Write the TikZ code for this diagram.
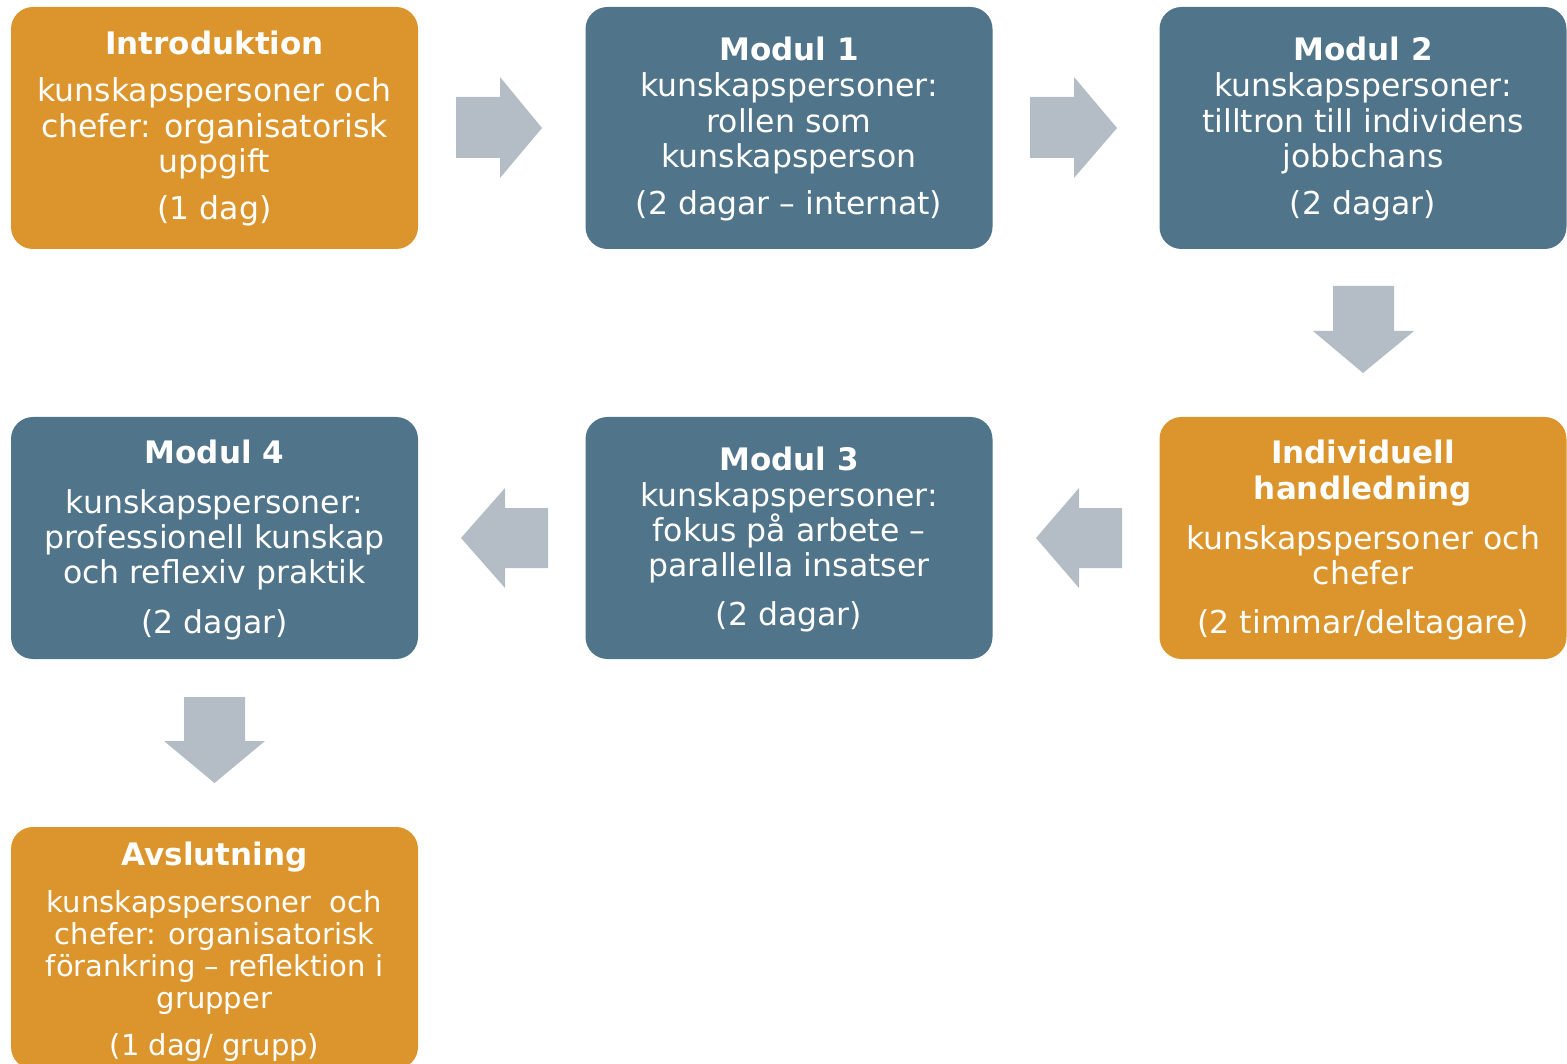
\documentclass[tikz,border=0pt]{standalone}
\usepackage{fontspec}
\setmainfont{DejaVu Sans}
\definecolor{orng}{HTML}{DB952C}
\definecolor{slate}{HTML}{507489}
\definecolor{arrowgray}{HTML}{B4BCC5}
\begin{document}
\begin{tikzpicture}[x=1pt,y=-1pt,
  box/.style={draw=none,rounded corners=22pt,inner sep=0pt,minimum width=407pt,minimum height=242pt},
  obox/.style={box,fill=orng},
  bbox/.style={box,fill=slate},
  ttl/.style={text=white,anchor=base,font=\bfseries\fontsize{31}{36}\selectfont,inner sep=0pt},
  bdy/.style={text=white,anchor=base,align=center,font=\fontsize{31.5}{35.3}\selectfont,inner sep=0pt},
  sbdy/.style={text=white,anchor=base,align=center,font=\fontsize{29}{32}\selectfont,inner sep=0pt},
  blk/.style={fill=arrowgray,draw=none}]
\useasboundingbox (0,0) rectangle (1567,1064);
% boxes
\node[obox] (intro) at (214.5,128) {};
\node[bbox] (m1) at (789,128) {};
\node[bbox] (m2) at (1363,128) {};
\node[obox] (ind) at (1363,538) {};
\node[bbox] (m3) at (789,538) {};
\node[bbox] (m4) at (214.5,538) {};
\node[obox] (avs) at (214.5,948) {};
% texts (multi-line nodes are placed at the baseline of their last line)
\node[ttl] (t1) at (214.5,55) {Introduktion};
\node[bdy] (b1) at (214.5,172.6) {kunskapspersoner och\\chefer: organisatorisk\\uppgift};
\node[bdy] (d1) at (214.5,220) {(1 dag)};

\node[ttl] (t2) at (789,61) {Modul 1};
\node[bdy] (b2) at (789,167.6) {kunskapspersoner:\\rollen som\\kunskapsperson};
\node[bdy] (d2) at (789,215) {(2 dagar – internat)};

\node[ttl] (t3) at (1363,61) {Modul 2};
\node[bdy] (b3) at (1363,167.6) {kunskapspersoner:\\tilltron till individens\\jobbchans};
\node[bdy] (d3) at (1363,215) {(2 dagar)};

\node[ttl] (t6) at (1363,464) {Individuell};
\node[ttl] (t6b) at (1363,500) {handledning};
\node[bdy] (b6) at (1363,584.3) {kunskapspersoner och\\chefer};
\node[bdy] (d6) at (1363,633) {(2 timmar/deltagare)};

\node[ttl] (t5) at (789,471) {Modul 3};
\node[bdy] (b5) at (789,576.6) {kunskapspersoner:\\fokus på arbete –\\parallella insatser};
\node[bdy] (d5) at (789,625) {(2 dagar)};

\node[ttl] (t4) at (214.5,464) {Modul 4};
\node[bdy] (b4) at (214.5,583.6) {kunskapspersoner:\\professionell kunskap\\och reflexiv praktik};
\node[bdy] (d4) at (214.5,633) {(2 dagar)};

\node[ttl] (t7) at (214.5,865) {Avslutning};
\node[sbdy] (b7) at (214.5,1008) {kunskapspersoner\ \ och\\chefer: organisatorisk\\förankring – reflektion i\\grupper};
\node[sbdy] (d7) at (214.5,1055) {(1 dag/ grupp)};

% block arrows
\fill[blk] (456,97) -- (500,97) -- (500,77) -- (542,128) -- (500,178) -- (500,158) -- (456,158) -- cycle;
\fill[blk] (1030,97) -- (1074,97) -- (1074,77) -- (1117,128) -- (1074,178) -- (1074,158) -- (1030,158) -- cycle;
\fill[blk] (1333,286) -- (1394,286) -- (1394,331) -- (1414,331) -- (1363,373) -- (1313,331) -- (1333,331) -- cycle;
\fill[blk] (1122,508) -- (1079,508) -- (1079,488) -- (1036,538) -- (1079,588) -- (1079,568) -- (1122,568) -- cycle;
\fill[blk] (548,508) -- (505,508) -- (505,488) -- (461,538) -- (505,588) -- (505,568) -- (548,568) -- cycle;
\fill[blk] (184,697) -- (245,697) -- (245,741) -- (265,741) -- (214.5,783) -- (164,741) -- (184,741) -- cycle;
\end{tikzpicture}
\end{document}
